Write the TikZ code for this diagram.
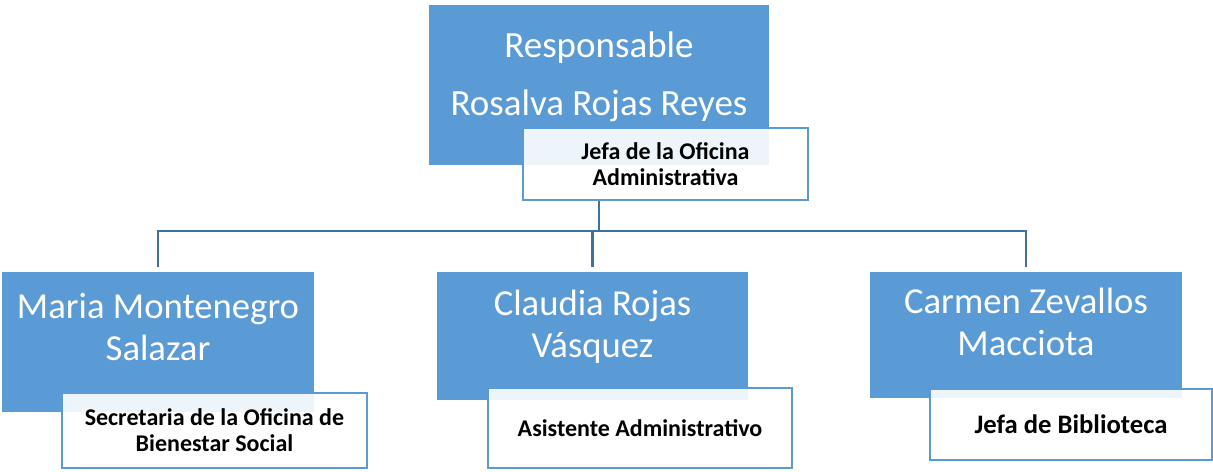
\documentclass[tikz,border=0pt]{standalone}
\usepackage{fontspec}
\setmainfont{Carlito}
\usetikzlibrary{positioning}
\definecolor{boxblue}{HTML}{5B9BD5}
\definecolor{lineblue}{HTML}{41719C}
\tikzset{
    %Define style for blue boxes
    person/.style={
           rectangle,
           fill=boxblue,
           inner sep=0pt},
    %Define style for white role boxes
    rolebox/.style={
           rectangle,
           draw=boxblue, line width=1.5pt,
           fill=white, fill opacity=0.9, text opacity=1,
           font=\fontsize{18}{19.5}\selectfont\bfseries,
           align=center,
           inner sep=0pt},
    %Define style for names
    nametext/.style={
           text=white,
           align=center,
           inner sep=0pt,
           font=\fontsize{27.5}{31}\selectfont},
    % Define connector style
    conn/.style={
           draw=lineblue,
           line width=1.9pt}
}
\begin{document}
\begin{tikzpicture}[x=0.75pt,y=-0.75pt]
\useasboundingbox (0,0) rectangle (1213,471);
% top
\node[person, minimum width=255pt, minimum height=120pt] (resp) at (599,85) {};
\node[nametext, anchor=base, font=\fontsize{27.75}{43.5}\selectfont] (respT) at (599,115) {Responsable\\Rosalva Rojas Reyes};
\node[rolebox, minimum width=213.75pt, minimum height=54pt] (jefa) at (665.5,164) {Jefa de la Oficina\\Administrativa};
% bottom row
\node[person, minimum width=234pt, minimum height=105pt] (maria) at (158,342) {};
\node[nametext, anchor=base] (mariaT) at (158,360) {Maria Montenegro\\Salazar};
\node[rolebox, minimum width=228.75pt, minimum height=56.25pt] (secre) at (214.5,430.5) {Secretaria de la Oficina de\\Bienestar Social};
\node[person, minimum width=233.25pt, minimum height=96pt] (claudia) at (592.5,336) {};
\node[nametext, anchor=base] (claudiaT) at (592.5,357) {Claudia Rojas\\Vásquez};
\node[rolebox, minimum width=228pt, minimum height=60pt] (asist) at (640,428) {Asistente Administrativo};
\node[person, minimum width=234pt, minimum height=94.5pt] (carmen) at (1026,335) {};
\node[nametext, anchor=base] (carmenT) at (1026,355) {Carmen Zevallos\\Macciota};
\node[rolebox, minimum width=211.5pt, minimum height=53.25pt, font=\fontsize{20}{22}\selectfont\bfseries] (biblio) at (1071,424.5) {Jefa de Biblioteca};
% connectors
\coordinate (bus) at (599,231);
\draw[conn] (jefa.south -| resp.south) -- (bus);
\draw[conn, shorten <=3.5pt, shorten >=3.5pt] (maria.north) |- (bus) -| (carmen.north);
\draw[conn, shorten <=3.5pt] (claudia.north) -- (claudia.north |- bus);
\end{tikzpicture}
\end{document}
